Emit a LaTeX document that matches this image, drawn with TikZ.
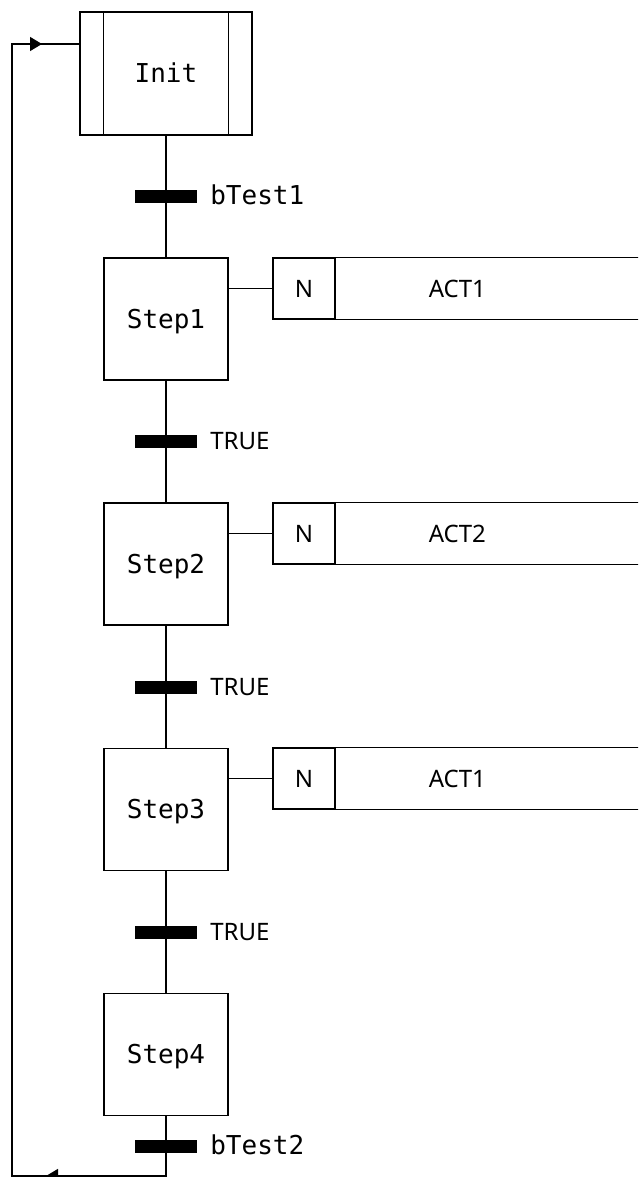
\documentclass[tikz,border=0pt]{standalone}
\usepackage{fontspec}
\newfontfamily\monofont{DejaVu Sans Mono}
\newfontfamily\labelfont{Noto Sans}
\usetikzlibrary{arrows.meta}

\begin{document}
\begin{tikzpicture}[x=1pt, y=-1pt, line width=1.3pt,
  monotext/.style={font={\monofont\fontsize{26}{30}\selectfont}},
  sanstext/.style={font={\labelfont\fontsize{24}{28}\selectfont}},
  stepbox/.style={draw, monotext, minimum width=124pt, minimum height=122pt,
    inner sep=0pt, text height=18pt, text depth=0pt},
  initbox/.style={stepbox, minimum width=172pt, minimum height=123pt},
  trbar/.style={fill=black, draw=none, minimum width=62pt, minimum height=13pt, inner sep=0pt},
  trlabel/.style={anchor=base west, inner sep=0pt, xshift=12pt, yshift=-8pt},
  qualbox/.style={draw, sanstext, minimum width=62pt, minimum height=61pt,
    inner sep=0pt, text height=17pt, text depth=0pt},
  actbox/.style={sanstext, minimum width=242pt, minimum height=61pt,
    inner sep=0pt, text height=17pt, text depth=0pt},
  flow/.style={-{Triangle[length=12pt, width=14pt]}}]

\useasboundingbox (0,0) rectangle (638,1177);
\clip (0,0) rectangle (638,1177);

% initial step with double side bars
\node[initbox] (init) at (166,73.5) {Init};
\draw ([xshift=24pt]init.north west) -- ([xshift=24pt]init.south west);
\draw ([xshift=-24pt]init.north east) -- ([xshift=-24pt]init.south east);

% steps
\node[stepbox] (step1) at (166,319) {Step1};
\node[stepbox] (step2) at (166,564) {Step2};
\node[stepbox] (step3) at (166,809.5) {Step3};
\node[stepbox] (step4) at (166,1054.5) {Step4};

% return path
\coordinate (loopbot) at (166,1176);
\coordinate (loopleft) at (12,1176);
\coordinate (looptop) at (12,44);

% vertical links
\draw (init.south) -- (step1.north);
\draw (step1.south) -- (step2.north);
\draw (step2.south) -- (step3.north);
\draw (step3.south) -- (step4.north);
\draw (step4.south) -- (loopbot) -- (loopleft) -- (looptop) -- (looptop -| init.west);
\draw[flow] (looptop) -- ([xshift=30pt]looptop);
\draw[flow] ([xshift=60pt]loopleft) -- ([xshift=34pt]loopleft);

% transitions
\node[trbar] (t1) at (166,196.7) {};
\node[trbar] (t2) at (166,441.5) {};
\node[trbar] (t3) at (166,687) {};
\node[trbar] (t4) at (166,932.3) {};
\node[trbar] (t5) at (166,1146.3) {};
\node[trlabel, monotext] (c1) at (t1.east) {bTest1};
\node[trlabel, sanstext] (c2) at (t2.east) {TRUE};
\node[trlabel, sanstext] (c3) at (t3.east) {TRUE};
\node[trlabel, sanstext] (c4) at (t4.east) {TRUE};
\node[trlabel, monotext] (c5) at (t5.east) {bTest2};

% action blocks
\node[qualbox] (q1) at (304,288.5) {N};
\node[actbox, anchor=west] (a1) at (q1.east) {ACT1};
\node[qualbox] (q2) at (304,533.5) {N};
\node[actbox, anchor=west] (a2) at (q2.east) {ACT2};
\node[qualbox] (q3) at (304,778.5) {N};
\node[actbox, anchor=west] (a3) at (q3.east) {ACT1};
\foreach \i in {1,2,3} {
  \draw (q\i.north east) -- ++(320,0);
  \draw (q\i.south east) -- ++(320,0);
  \draw (q\i.west) -- (q\i.west -| step\i.east);
}
\end{tikzpicture}
\end{document}
